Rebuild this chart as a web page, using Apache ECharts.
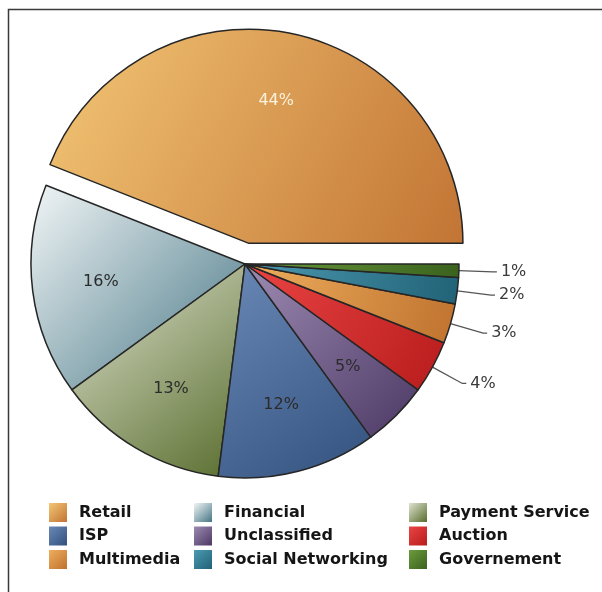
<!DOCTYPE html>
<html>
<head>
<meta charset="utf-8">
<script src="https://cdn.jsdelivr.net/npm/echarts@6/dist/echarts.min.js"></script>
<style>
  html, body { margin: 0; padding: 0; background: #fff; }
  #pieChart { width: 602px; height: 592px; }
</style>
</head>
<body>
<div id="pieChart"></div>
<script>
// data
var categories = ['Retail', 'Financial', 'Payment Service', 'ISP', 'Unclassified',
                  'Auction', 'Multimedia', 'Social Networking', 'Governement'];
var shares = [44, 16, 13, 12, 5, 4, 3, 2, 1];
var legendColumns = [
  ['Retail', 'ISP', 'Multimedia'],
  ['Financial', 'Unclassified', 'Social Networking'],
  ['Payment Service', 'Auction', 'Governement']
];
var explodedSlice = 'Retail';
var outsideLimit = 5; // slices smaller than this get their label outside

// light (top-left) -> dark (bottom-right) for each slice
var palette = [
  ['#f3c675', '#c27434'],
  ['#f2f6f7', '#457584'],
  ['#e0e3d0', '#576c2c'],
  ['#6b89b7', '#33517d'],
  ['#9d8bb3', '#4b3864'],
  ['#ea4444', '#b81c1c'],
  ['#eeae5e', '#bf722e'],
  ['#4c9ab2', '#216276'],
  ['#6c9c3c', '#3a621e']
];

function grad(c) {
  return new echarts.graphic.LinearGradient(0, 0, 1, 1, [
    { offset: 0, color: c[0] },
    { offset: 1, color: c[1] }
  ]);
}

var centre = [245, 264];
var R = 214;

var mainData = categories.map(function (name, i) {
  var outside = shares[i] < outsideLimit;
  return {
    name: name,
    value: shares[i],
    selected: name === explodedSlice,
    itemStyle: { color: grad(palette[i]) },
    label: { show: outside },
    labelLine: { show: outside }
  };
});

// second, invisible pie only to put the inside labels at ~2/3 of the radius
var labelData = categories.map(function (name, i) {
  return {
    name: name,
    value: shares[i],
    selected: name === explodedSlice,
    label: {
      show: shares[i] >= outsideLimit,
      color: name === explodedSlice ? '#fbf1dc' : '#2b2b2b'
    }
  };
});

var chart = echarts.init(document.getElementById('pieChart'));

var legends = legendColumns.map(function (col, k) {
  return {
    data: col,
    orient: 'vertical',
    left: [44, 189, 404][k],
    top: 498,
    itemWidth: 18,
    itemHeight: 19,
    itemGap: 4.5,
    icon: 'rect',
    selectedMode: false,
    itemStyle: { borderWidth: 0 },
    textStyle: {
      fontFamily: 'DejaVu Sans',
      fontWeight: 'bold',
      fontSize: 16,
      color: '#151515',
      padding: [0, 0, 0, 7]
    }
  };
});

chart.setOption({
  animation: false,
  graphic: [{
    type: 'rect',
    shape: { x: 8.5, y: 9.5, width: 800, height: 800 },
    style: { fill: 'none', stroke: '#3a3a3a', lineWidth: 1.5 },
    silent: true
  }],
  legend: legends,
  series: [
    {
      name: 'share',
      type: 'pie',
      center: centre,
      radius: R,
      startAngle: 0,
      clockwise: false,
      selectedMode: 'single',
      selectedOffset: 21,
      emphasis: { disabled: true },
      itemStyle: { borderColor: '#262626', borderWidth: 1.5 },
      label: {
        position: 'outside',
        formatter: '{c}%',
        fontFamily: 'DejaVu Sans',
        fontSize: 16,
        color: '#3a3a3a',
        distanceToLabelLine: 4
      },
      labelLine: {
        length: 34,
        length2: 4,
        lineStyle: { color: '#555', width: 1.3 }
      },
      data: mainData
    },
    {
      name: 'labels',
      type: 'pie',
      center: centre,
      radius: R * 1.33,
      startAngle: 0,
      clockwise: false,
      selectedMode: 'single',
      selectedOffset: 21,
      silent: true,
      legendHoverLink: false,
      emphasis: { disabled: true },
      itemStyle: { color: 'rgba(0,0,0,0)', borderWidth: 0 },
      label: {
        position: 'inner',
        formatter: '{c}%',
        fontFamily: 'DejaVu Sans',
        fontSize: 16
      },
      labelLine: { show: false },
      data: labelData
    }
  ]
});
</script>
</body>
</html>
